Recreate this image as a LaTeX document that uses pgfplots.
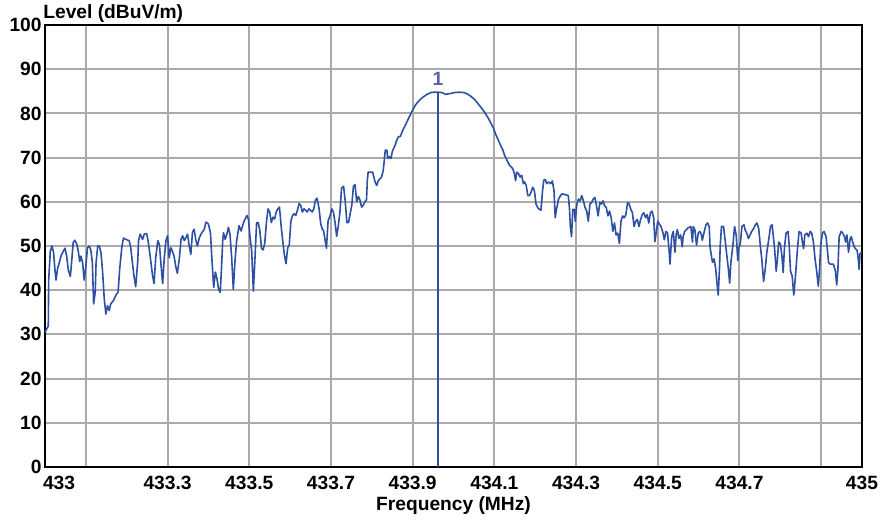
\documentclass[border=0pt]{standalone}
\usepackage{fontspec}
\setmainfont{Liberation Sans}
\usepackage{pgfplots}
\usepackage{pgfplotstable}
\pgfplotsset{compat=1.18}
\definecolor{trace}{RGB}{45,80,165}
\definecolor{gridgray}{RGB}{170,170,170}
\definecolor{mklabel}{RGB}{90,95,170}
\newcommand{\lblfont}{\fontsize{9.6}{11}\selectfont\bfseries}

\pgfplotstableread{
f L
433.000 30.5
433.008 31.9
433.009 42.3
433.013 48.8
433.017 50.0
433.021 48.5
433.024 45.0
433.027 42.3
433.031 45.0
433.035 46.2
433.039 47.7
433.043 48.5
433.049 49.5
433.053 47.7
433.057 44.6
433.062 43.1
433.065 46.2
433.069 50.8
433.073 51.3
433.078 50.4
433.082 48.5
433.085 46.5
433.088 47.7
433.092 46.2
433.096 42.3
433.100 45.4
433.104 49.6
433.108 50.0
433.112 49.2
433.116 46.2
433.119 36.9
433.123 39.6
433.125 46.2
433.129 50.0
433.133 50.0
433.137 48.5
433.141 44.2
433.145 38.1
433.149 34.6
433.153 36.5
433.157 35.4
433.161 36.9
433.168 37.7
433.173 38.8
433.179 39.6
433.183 45.0
433.188 49.6
433.192 51.8
433.198 51.5
433.206 51.2
433.210 49.6
433.214 46.2
433.218 43.1
433.222 40.8
433.227 46.5
433.229 51.2
433.233 52.7
433.239 51.5
433.243 52.7
433.249 52.8
433.253 50.8
433.258 47.3
433.263 43.5
433.267 41.5
433.271 47.3
433.276 51.2
433.280 50.4
433.284 45.8
433.288 41.5
433.292 47.3
433.296 51.2
433.300 52.3
433.304 47.3
433.308 49.6
433.312 48.8
433.316 47.7
433.320 45.4
433.324 43.8
433.329 47.3
433.333 51.5
433.337 52.3
433.341 51.2
433.345 51.9
433.349 52.7
433.353 50.0
433.357 48.1
433.361 53.1
433.365 53.8
433.369 51.5
433.373 50.0
433.378 51.9
433.382 52.7
433.390 53.8
433.394 55.4
433.400 55.0
433.405 53.0
433.409 46.4
433.413 40.6
433.417 44.1
433.421 42.6
433.425 40.2
433.429 39.5
433.432 44.9
433.435 51.1
433.437 53.0
433.441 51.5
433.445 52.6
433.449 54.2
433.453 52.6
433.457 47.2
433.461 40.2
433.465 46.4
433.469 51.1
433.475 54.6
433.480 53.4
433.486 55.3
433.490 56.1
433.494 56.9
433.498 56.1
433.502 51.9
433.506 48.8
433.510 39.8
433.514 47.2
433.518 55.3
433.522 55.3
433.526 53.4
433.530 49.5
433.534 49.1
433.538 50.7
433.542 55.3
433.546 58.4
433.550 57.7
433.554 55.3
433.558 56.5
433.562 56.1
433.566 57.7
433.570 58.4
433.574 58.8
433.578 54.6
433.582 51.1
433.586 48.0
433.590 46.0
433.594 49.5
433.598 50.3
433.602 55.7
433.606 56.9
433.610 57.3
433.614 56.9
433.618 58.1
433.622 59.6
433.626 59.2
433.630 57.7
433.634 58.4
433.638 58.1
433.642 57.7
433.646 58.4
433.650 58.1
433.654 57.7
433.658 58.4
433.662 60.4
433.666 60.8
433.671 58.4
433.675 55.0
433.679 53.8
433.682 53.4
433.686 51.1
433.689 49.5
433.693 55.7
433.698 56.9
433.702 58.4
433.706 57.7
433.710 55.3
433.714 52.2
433.718 54.6
433.722 57.7
433.726 63.1
433.731 63.5
433.735 60.0
433.739 55.3
433.743 55.3
433.747 57.3
433.751 59.2
433.755 63.5
433.759 63.9
433.763 60.0
433.767 61.2
433.771 60.4
433.775 58.8
433.779 59.2
433.783 60.0
433.787 60.4
433.789 64.8
433.791 66.7
433.795 66.7
433.802 66.7
433.805 65.6
433.808 64.5
433.812 63.7
433.816 64.8
433.820 65.2
433.824 65.6
433.828 67.1
433.831 69.8
433.833 71.7
433.837 71.7
433.839 69.8
433.843 70.2
433.847 69.8
433.850 71.3
433.853 72.0
433.857 72.8
433.861 73.9
433.865 74.7
433.870 74.8
433.874 75.8
433.878 76.6
433.882 77.3
433.886 78.1
433.890 78.9
433.894 79.6
433.898 80.4
433.902 81.1
433.907 81.9
433.911 82.4
433.919 83.2
433.927 83.8
433.935 84.3
433.944 84.7
433.952 84.8
433.963 84.8
433.972 84.7
433.981 84.3
433.986 84.4
433.993 84.5
434.001 84.7
434.014 84.8
434.026 84.7
434.034 84.4
434.042 83.9
434.051 83.2
434.059 82.3
434.067 81.4
434.075 80.4
434.084 79.1
434.092 77.7
434.098 76.6
434.104 75.1
434.110 73.9
434.115 72.8
434.121 71.7
434.125 70.5
434.129 69.8
434.133 69.0
434.137 68.3
434.141 67.9
434.145 67.5
434.149 66.4
434.152 64.8
434.155 66.7
434.159 66.4
434.163 65.6
434.167 66.0
434.171 64.1
434.174 64.5
434.178 63.7
434.182 61.4
434.186 61.4
434.190 62.2
434.194 63.3
434.198 62.5
434.202 59.5
434.206 58.7
434.210 58.3
434.214 58.1
434.218 62.5
434.221 64.9
434.225 65.0
434.228 64.1
434.233 64.5
434.238 64.1
434.242 64.7
434.246 62.5
434.249 56.4
434.252 58.3
434.254 59.1
434.257 60.6
434.262 61.4
434.266 61.8
434.274 61.6
434.281 61.4
434.284 58.3
434.286 54.4
434.289 52.1
434.292 58.3
434.296 58.3
434.298 55.6
434.302 59.5
434.306 60.6
434.310 60.2
434.314 61.4
434.318 60.2
434.322 58.7
434.326 57.9
434.330 55.6
434.334 59.5
434.338 59.8
434.342 60.6
434.346 61.0
434.350 59.1
434.354 56.8
434.358 59.8
434.362 59.5
434.366 60.2
434.370 59.1
434.374 58.7
434.378 56.8
434.382 57.9
434.386 56.4
434.390 53.3
434.394 55.2
434.398 52.5
434.402 52.9
434.406 50.6
434.410 55.6
434.414 56.8
434.418 56.4
434.422 57.1
434.426 59.8
434.430 59.5
434.434 58.3
434.438 57.5
434.442 54.4
434.446 55.6
434.450 56.0
434.454 54.4
434.458 56.0
434.462 57.1
434.466 57.5
434.470 56.4
434.474 57.1
434.478 55.2
434.482 57.5
434.486 57.9
434.490 56.4
434.493 51.0
434.496 52.9
434.500 55.6
434.505 54.8
434.508 54.4
434.513 52.9
434.516 51.4
434.520 53.3
434.524 52.9
434.528 48.6
434.530 45.9
434.534 52.1
434.538 53.3
434.542 48.6
434.545 52.5
434.548 53.7
434.552 51.7
434.556 52.5
434.560 49.8
434.562 52.1
434.566 53.3
434.570 53.7
434.574 54.1
434.581 54.4
434.585 50.9
434.587 54.4
434.591 53.6
434.593 51.7
434.595 50.2
434.599 52.9
434.603 53.3
434.607 52.5
434.609 51.3
434.614 53.3
434.618 54.8
434.622 55.2
434.626 54.4
434.628 49.8
434.632 47.4
434.634 46.3
434.638 47.1
434.642 44.7
434.645 41.6
434.648 38.9
434.651 44.7
434.653 50.2
434.656 54.4
434.661 54.4
434.665 51.3
434.670 47.1
434.673 44.7
434.676 41.6
434.679 46.3
434.684 50.2
434.688 54.4
434.692 52.5
434.696 46.7
434.698 49.4
434.702 50.5
434.706 54.4
434.711 54.8
434.714 53.6
434.718 52.9
434.722 51.7
434.726 52.5
434.730 53.3
434.735 54.0
434.739 54.8
434.743 55.2
434.747 54.0
434.751 50.2
434.755 46.7
434.759 42.0
434.763 44.7
434.767 48.6
434.772 51.7
434.776 54.4
434.780 54.8
434.783 52.1
434.786 49.4
434.790 44.3
434.793 47.1
434.796 50.9
434.800 50.5
434.804 47.8
434.807 44.0
434.810 49.4
434.814 52.9
434.819 53.3
434.822 49.8
434.825 44.3
434.829 43.2
434.833 38.9
434.836 42.0
434.839 45.5
434.842 49.4
434.846 53.3
434.851 52.9
434.854 50.9
434.857 49.4
434.860 52.5
434.865 52.9
434.869 52.1
434.873 53.3
434.877 52.9
434.881 50.9
434.885 47.1
434.889 44.3
434.893 40.9
434.896 44.7
434.899 50.2
434.903 52.9
434.907 53.3
434.912 52.1
434.915 49.4
434.918 46.3
434.922 45.9
434.926 45.9
434.930 45.9
434.935 44.3
434.938 41.2
434.941 44.7
434.944 52.1
434.949 53.3
434.953 52.9
434.957 52.1
434.960 50.9
434.963 52.5
434.967 48.6
434.971 51.7
434.974 52.1
434.977 50.9
434.981 49.8
434.984 49.4
434.988 49.0
434.990 47.8
434.993 44.7
434.995 48.2
434.999 48.6
}\leveltable

\begin{document}
\begin{tikzpicture}
\begin{axis}[
  scale only axis,
  width=408.5pt, height=221pt,
  xmin=433, xmax=435, ymin=0, ymax=100,
  xtick={433,433.1,433.3,433.5,433.7,433.9,434.1,434.3,434.5,434.7,434.9,435},
  xticklabels={\makebox[0pt][l]{\hspace{-1pt}433},{},433.3,433.5,433.7,433.9,434.1,434.3,434.5,434.7,{},435},
  ytick={0,10,...,100},
  grid=major,
  major grid style={gridgray, line width=1pt},
  major tick length=0pt,
  axis line style={black, line width=1pt},
  tick label style={font=\lblfont},
  /pgf/number format/assume math mode=true,
  xticklabel style={anchor=base, inner sep=0pt, yshift=-11pt},
  yticklabel style={anchor=east, inner sep=0pt, xshift=-1.5pt},
  xlabel={Frequency (MHz)},
  xlabel style={at={(rel axis cs:0.5,0)}, anchor=base, inner sep=0pt, yshift=-21.9pt, font=\lblfont},
  clip=false,
]
\addplot[trace, line width=0.8pt, line join=round] table[x=f, y=L] {\leveltable};
\addplot[trace, line width=0.7pt] coordinates {(433.962,0) (433.962,84.8)}
  node[pos=1, anchor=south, inner sep=0pt, yshift=3pt, text=mklabel, font=\lblfont] {1};
\node[anchor=base west, inner sep=0pt, xshift=-1pt, yshift=3pt, font=\lblfont] at (rel axis cs:0,1) {Level (dBuV/m)};
\end{axis}
\pgfresetboundingbox
\path[use as bounding box] (current axis.south west) ++(-22.5pt,-26pt) rectangle ++(441pt,259.5pt);
\end{tikzpicture}
\end{document}
